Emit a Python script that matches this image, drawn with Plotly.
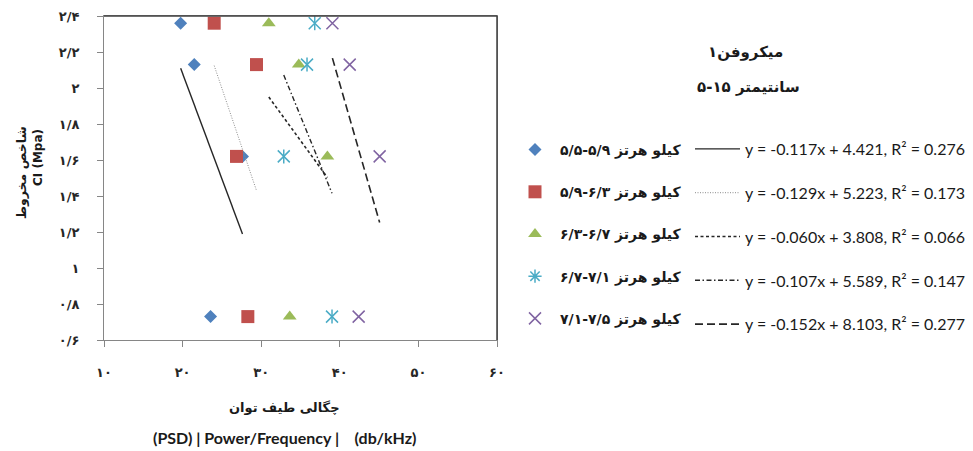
import plotly.graph_objects as go

# ---------------- data ----------------
series_names = [
    "کیلو هرتز ۵/۹-۵/۵",
    "کیلو هرتز ۶/۳-۵/۹",
    "کیلو هرتز ۶/۷-۶/۳",
    "کیلو هرتز ۷/۱-۶/۷",
    "کیلو هرتز ۷/۵-۷/۱",
]
ci_values = [2.36, 2.13, 1.62, 0.73]
psd_s1 = [19.75, 21.48, 27.62, 23.56]
psd_s2 = [24.02, 29.40, 26.86, 28.30]
psd_s3 = [30.97, 34.78, 38.42, 33.63]
psd_s4 = [36.81, 35.83, 32.87, 39.01]
psd_s5 = [39.06, 41.26, 45.07, 42.40]
trend_slopes = [-0.117, -0.129, -0.060, -0.107, -0.152]
trend_intercepts = [4.421, 5.223, 3.808, 5.589, 8.103]
trend_r2 = [0.276, 0.173, 0.066, 0.147, 0.277]

y_tick_vals = [0.6, 0.8, 1.0, 1.2, 1.4, 1.6, 1.8, 2.0, 2.2, 2.4]
y_tick_text = ["۰/۶", "۰/۸", "۱", "۱/۲", "۱/۴", "۱/۶", "۱/۸", "۲", "۲/۲", "۲/۴"]
x_tick_vals = [10, 20, 30, 40, 50, 60]
x_tick_text = ["۱۰", "۲۰", "۳۰", "۴۰", "۵۰", "۶۰"]

title_line1 = "میکروفن۱"
title_line2 = "سانتیمتر ۱۵-۵"
x_title_fa = "چگالی طیف توان"
x_title_en = "(PSD) | Power/Frequency |\u00a0\u00a0\u00a0 (db/kHz)"
y_title_fa = "شاخص مخروط"
y_title_en = "CI (Mpa)"

# ---------------- styles ----------------
psd_all = [psd_s1, psd_s2, psd_s3, psd_s4, psd_s5]
colors = ["#4F81BD", "#C0504D", "#9BBB59", "#4BACC6", "#8064A2"]
symbols = ["diamond", "square", "triangle-up", None, "x-thin-open"]
sizes = [10, 13, 12, 12, 12]
trend_dash = ["solid", "1px,1.5px", "3px,2.5px", "5px,2.5px,1.5px,2.5px", "8px,4px"]
trend_color = ["#262626", "#8c8c8c", "#262626", "#262626", "#262626"]
trend_width = [1.4, 1.0, 1.6, 1.4, 1.6]

FA_FONT = "DejaVu Sans"
EN_FONT = "Lato"

fig = go.Figure()

for i, xs in enumerate(psd_all):
    if symbols[i] is None:
        # star marker: vertical bar + x
        fig.add_trace(go.Scatter(
            x=xs, y=ci_values, mode="markers", showlegend=False,
            marker=dict(symbol="x-thin-open", size=12, color=colors[i],
                        line=dict(color=colors[i], width=1.5)),
            hoverinfo="skip"))
        fig.add_trace(go.Scatter(
            x=xs, y=ci_values, mode="markers", showlegend=False,
            marker=dict(symbol="line-ns-open", size=10, color=colors[i],
                        line=dict(color=colors[i], width=1.5)),
            hoverinfo="skip"))
        fig.add_trace(go.Scatter(
            x=[None], y=[None], mode="markers", name=series_names[i],
            legend="legend", legendgroup="s%d" % i,
            marker=dict(symbol="asterisk-open", size=11, color=colors[i],
                        line=dict(color=colors[i], width=1.5))))
    else:
        mk = dict(symbol=symbols[i], size=sizes[i], color=colors[i])
        if symbols[i].endswith("open"):
            mk["line"] = dict(color=colors[i], width=1.5)
        else:
            mk["line"] = dict(width=0)
        fig.add_trace(go.Scatter(
            x=xs, y=ci_values, mode="markers", name=series_names[i],
            legend="legend", legendgroup="s%d" % i, marker=mk))

for i, xs in enumerate(psd_all):
    x0, x1 = min(xs), max(xs)
    m, b = trend_slopes[i], trend_intercepts[i]
    label = "y = %.3fx + %.3f, R² = %.3f" % (m, b, trend_r2[i])
    fig.add_trace(go.Scatter(
        x=[x0, x1], y=[m * x0 + b, m * x1 + b], mode="lines", name=label,
        legend="legend2", legendgroup="t%d" % i,
        line=dict(color=trend_color[i], width=trend_width[i], dash=trend_dash[i])))

W, H = 973, 451
PL, PR, PT, PB = 104, 497, 16, 340   # plot-area box in pixels


def px_x(p):
    return (p - PL) / (PR - PL)


def px_y(p):
    return (PB - p) / (PB - PT)


fig.update_layout(
    width=W, height=H, autosize=False,
    margin=dict(l=PL, r=W - PR, t=PT, b=H - PB, pad=0, autoexpand=False),
    paper_bgcolor="white", plot_bgcolor="white",
    font=dict(family=FA_FONT, color="#262626"),
    legend=dict(
        xref="container", yref="container", x=510 / W, y=1 - 134 / H,
        xanchor="left", yanchor="top", bgcolor="rgba(0,0,0,0)",
        font=dict(family=FA_FONT, size=14, color="#1a1a1a", weight="bold"),
        tracegroupgap=21, itemwidth=40,
    ),
    legend2=dict(
        xref="container", yref="container", x=690 / W, y=1 - 132 / H,
        xanchor="left", yanchor="top", bgcolor="rgba(0,0,0,0)",
        font=dict(family=EN_FONT, size=16, color="#1a1a1a"),
        tracegroupgap=20, itemwidth=45,
    ),
    xaxis=dict(
        range=[10, 60], tickvals=x_tick_vals, ticktext=x_tick_text,
        showgrid=False, zeroline=False, showline=True, linecolor="#868686",
        linewidth=1, mirror=True, ticks="outside", ticklen=6, tickcolor="#868686",
        tickfont=dict(family=FA_FONT, size=13, color="#262626", weight="bold"),
        ticklabelstandoff=14,
    ),
    yaxis=dict(
        range=[0.6, 2.4], tickvals=y_tick_vals, ticktext=y_tick_text,
        showgrid=False, zeroline=False, showline=True, linecolor="#868686",
        linewidth=1, mirror=True, ticks="outside", ticklen=6, tickcolor="#868686",
        tickfont=dict(family=FA_FONT, size=13, color="#262626", weight="bold"),
        ticklabelstandoff=15,
    ),
    shapes=[
        dict(type="line", xref="paper", yref="paper", x0=0, x1=1, y0=1, y1=1,
             line=dict(color="#404040", width=1.5)),
        dict(type="line", xref="paper", yref="paper", x0=1, x1=1, y0=0, y1=1,
             line=dict(color="#404040", width=1.5)),
    ],
    annotations=[
        dict(text=title_line1, xref="paper", yref="paper",
             x=px_x(745), y=px_y(52), showarrow=False,
             xanchor="center", yanchor="middle",
             font=dict(family=FA_FONT, size=15, color="#1a1a1a", weight="bold")),
        dict(text=title_line2, xref="paper", yref="paper",
             x=px_x(748), y=px_y(87), showarrow=False,
             xanchor="center", yanchor="middle",
             font=dict(family=FA_FONT, size=15, color="#1a1a1a", weight="bold")),
        dict(text=x_title_fa, xref="paper", yref="paper",
             x=px_x(284), y=px_y(407), showarrow=False,
             xanchor="center", yanchor="middle",
             font=dict(family=FA_FONT, size=13, color="#1a1a1a", weight="bold")),
        dict(text=x_title_en, xref="paper", yref="paper",
             x=px_x(284), y=px_y(437), showarrow=False,
             xanchor="center", yanchor="middle",
             font=dict(family=EN_FONT, size=16, color="#1a1a1a", weight="bold")),
        dict(text=y_title_fa, xref="paper", yref="paper", textangle=-90,
             x=px_x(21), y=px_y(173), showarrow=False,
             xanchor="center", yanchor="middle",
             font=dict(family=FA_FONT, size=12.5, color="#1a1a1a", weight="bold")),
        dict(text=y_title_en, xref="paper", yref="paper", textangle=-90,
             x=px_x(38), y=px_y(158), showarrow=False,
             xanchor="center", yanchor="middle",
             font=dict(family=FA_FONT, size=12, color="#1a1a1a", weight="bold")),
    ],
)

fig.write_html("out.html", config={"displayModeBar": False},
               post_script="document.body.style.margin='0';")
